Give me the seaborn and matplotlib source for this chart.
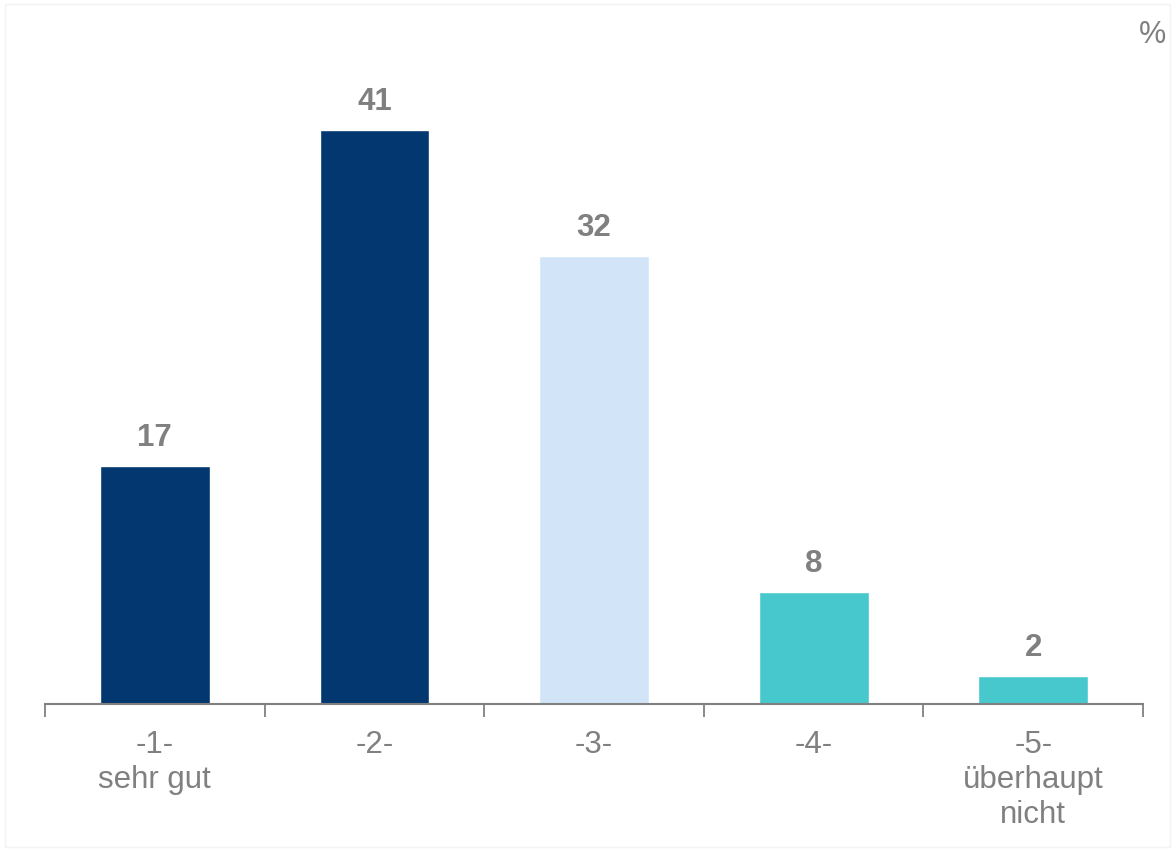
import matplotlib
matplotlib.use("Agg")
import matplotlib.pyplot as plt
import seaborn as sns
import pandas as pd
from matplotlib.patches import Rectangle

# ── Data ──
categories = ["-1-\nsehr gut", "-2-", "-3-", "-4-", "-5-\nüberhaupt\nnicht"]
values     = [17, 41, 32, 8, 2]
colors     = ["#02376f", "#02376f", "#d2e5f8", "#47c8cc", "#47c8cc"]

df = pd.DataFrame({"category": categories, "value": values})

sns.set_theme(style="white")
plt.rcParams["font.family"] = ["Liberation Sans", "DejaVu Sans"]
GREY = "#808080"

fig = plt.figure(figsize=(11.75, 8.5), dpi=100)
ax = fig.add_axes([45 / 1175, 1 - 704 / 850, 1098 / 1175, 630 / 850])

sns.barplot(data=df, x="category", y="value", hue="category",
            palette=colors, legend=False, width=0.5, saturation=1, ax=ax)

# value labels
for i, v in enumerate(values):
    ax.annotate(f"{v}", (i, v), xytext=(0, 9), textcoords="offset points",
                ha="center", va="bottom", fontsize=22.5, fontweight="bold", color=GREY)

ax.set_xlim(-0.5, len(values) - 0.5)
ax.set_ylim(0, 45)
ax.set_xlabel("")
ax.set_ylabel("")
ax.set_yticks([])

# ticks between categories, labels centred
ax.set_xticks(range(len(values)))
ax.set_xticklabels(categories, fontsize=22.5, color=GREY, linespacing=1.2)
ax.tick_params(axis="x", which="major", bottom=True, length=0, pad=19)
ax.set_xticks([i - 0.5 for i in range(len(values) + 1)], minor=True)
ax.tick_params(axis="x", which="minor", bottom=True, length=9, width=1.3,
               color=GREY, direction="out")

for side in ["top", "right", "left"]:
    ax.spines[side].set_visible(False)
ax.spines["bottom"].set_color(GREY)
ax.spines["bottom"].set_linewidth(1.5)

fig.text(1153 / 1175, 1 - 35 / 850, "%", ha="center", va="center", fontsize=22, color=GREY)

# faint frame round the picture
fig.patches.append(Rectangle((5 / 1175, 3 / 850), 1165 / 1175, 843 / 850,
                             transform=fig.transFigure, fill=False,
                             edgecolor="#f3f3f3", linewidth=1))

fig.savefig("out.png", dpi=100)
